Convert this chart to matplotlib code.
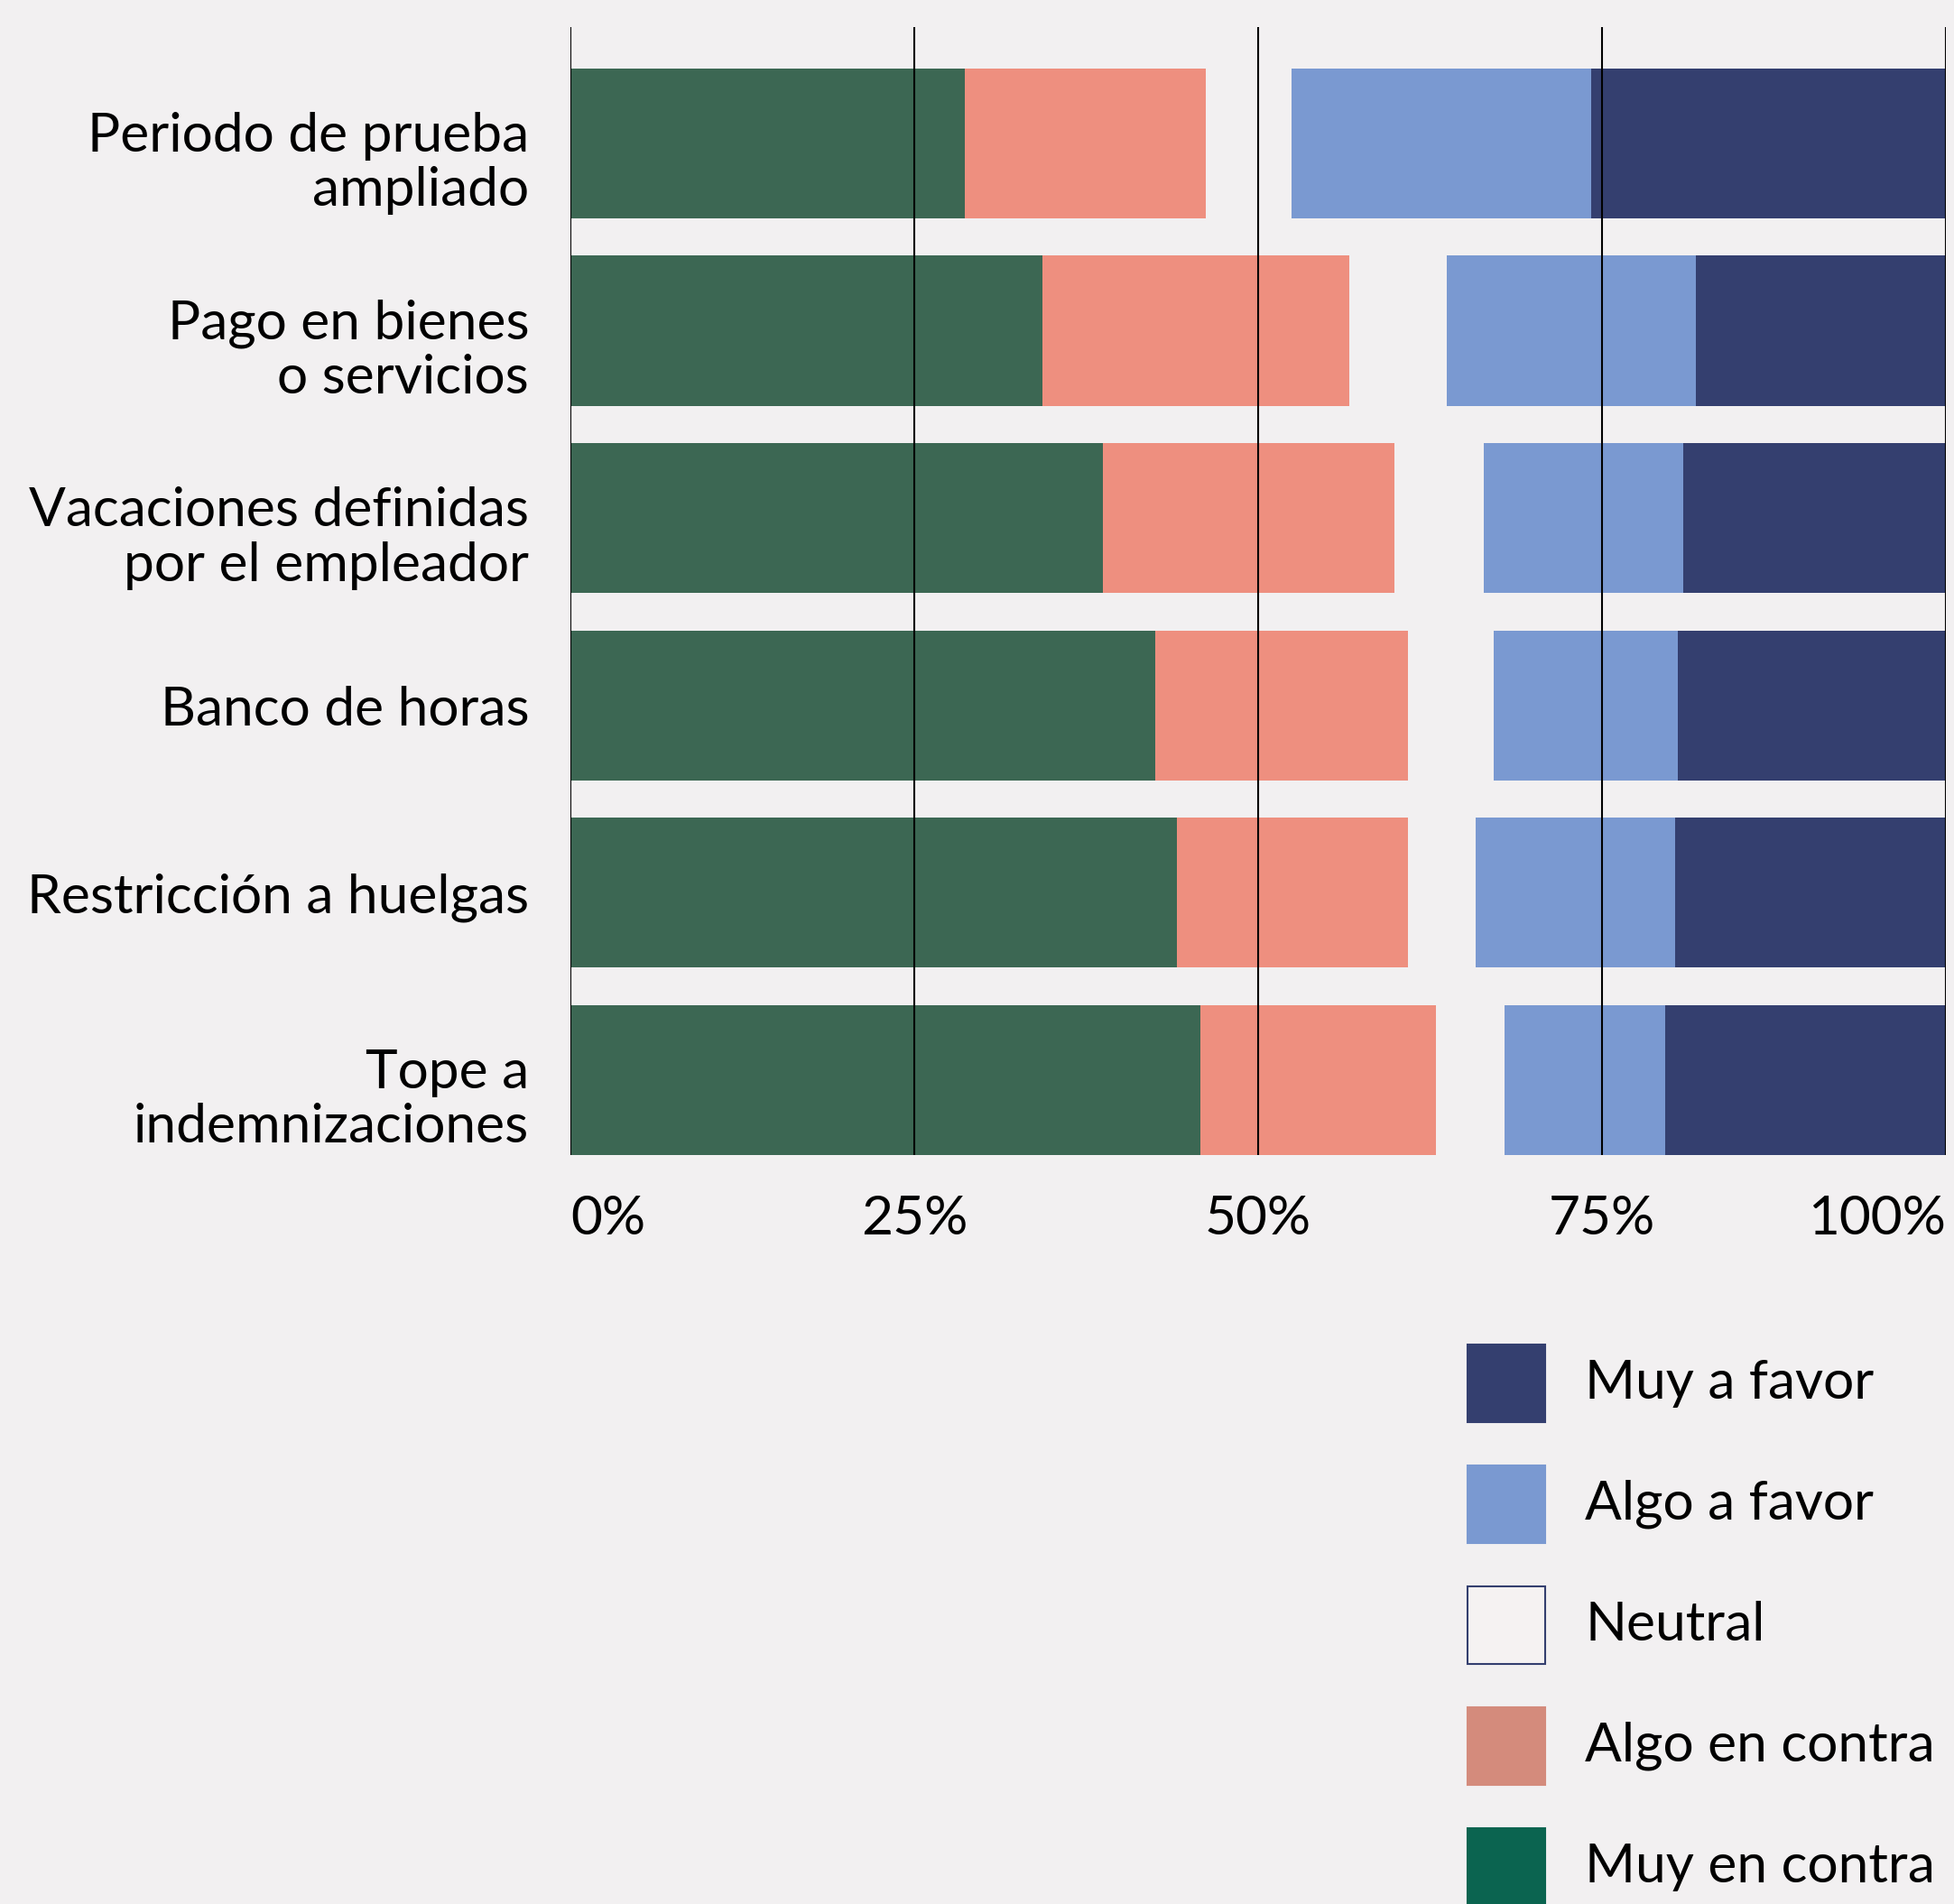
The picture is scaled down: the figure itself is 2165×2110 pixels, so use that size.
import matplotlib
matplotlib.use("Agg")
import matplotlib.pyplot as plt
import matplotlib.transforms as mtransforms
from matplotlib.patches import Rectangle
import numpy as np

plt.rcParams['font.family'] = ['Lato', 'DejaVu Sans']

categorias = ["Periodo de prueba\nampliado", "Pago en bienes\no servicios",
              "Vacaciones definidas\npor el empleador", "Banco de horas",
              "Restricción a huelgas", "Tope a\nindemnizaciones"]

muy_contra = [28.7, 34.3, 38.7, 42.5, 44.1, 45.8]
algo_contra = [17.5, 22.3, 21.2, 18.4, 16.8, 17.1]
neutral = [6.2, 7.1, 6.5, 6.2, 4.9, 5.0]
algo_favor = [21.8, 18.1, 14.5, 13.4, 14.5, 11.7]
muy_favor = [25.8, 18.2, 19.1, 19.5, 19.7, 20.4]

ticks = [0, 25, 50, 75, 100]
tick_labels = ["0%", "25%", "50%", "75%", "100%"]

bg = "#F2F0F1"
series = [muy_contra, algo_contra, neutral, algo_favor, muy_favor]
bar_colors = ["#3C6753", "#EE8F7F", bg, "#7A99D1", "#343F6F"]

leg_labels = ["Muy a favor", "Algo a favor", "Neutral", "Algo en contra", "Muy en contra"]
leg_colors = ["#343F6F", "#7A99D1", "#F5F2F2", "#D48B7C", "#0B6450"]

fs = 43.5

fig = plt.figure(figsize=(21.65, 21.1), dpi=100, facecolor=bg)
ax = fig.add_axes([0.2919, 0.3934, 0.7039, 0.5923])
ax.set_facecolor(bg)

y = np.arange(len(categorias))
left = np.zeros(len(categorias))
for vals, col in zip(series, bar_colors):
    ax.barh(y, vals, left=left, height=0.8, color=col, linewidth=0, zorder=2)
    left = left + np.array(vals)

ax.set_xlim(0, 100)
ax.set_ylim(len(categorias) - 0.6, -0.62)
for t in ticks:
    ax.axvline(t, color="black", lw=1.5, zorder=3)

for s in ax.spines.values():
    s.set_visible(False)
ax.set_xticks([])
ax.set_yticks(y)
ax.set_yticklabels(categorias, fontsize=fs, linespacing=1.15)
ax.tick_params(axis="y", length=0, pad=33)

# two-line labels sit a bit lower in the original
shift = mtransforms.ScaledTranslation(0, -0.14, fig.dpi_scale_trans)
for lbl in ax.get_yticklabels():
    if "\n" in lbl.get_text():
        lbl.set_transform(lbl.get_transform() + shift)

# percent labels under the axes
for t, lab in zip(ticks, tick_labels):
    ha = "left" if t == 0 else ("right" if t == 100 else "center")
    ax.text(t, -0.035, lab, transform=ax.get_xaxis_transform(), ha=ha, va="top",
            fontsize=fs)

# legend drawn by hand
lx, lw_box = 1626 / 2165, 86 / 2165
bh = 86 / 2110
top0 = 1 - 1490 / 2110
pitch = 134 / 2110
for i, (lab, col) in enumerate(zip(leg_labels, leg_colors)):
    yb = top0 - i * pitch - bh
    edge = "#343F6F" if lab == "Neutral" else col
    fig.patches.append(Rectangle((lx, yb), lw_box, bh, transform=fig.transFigure,
                                 facecolor=col, edgecolor=edge, lw=1.5))
    fig.text(1756 / 2165, yb + bh / 2, lab, fontsize=fs, va="center", ha="left")

fig.savefig("out.png", dpi=100, facecolor=bg)
